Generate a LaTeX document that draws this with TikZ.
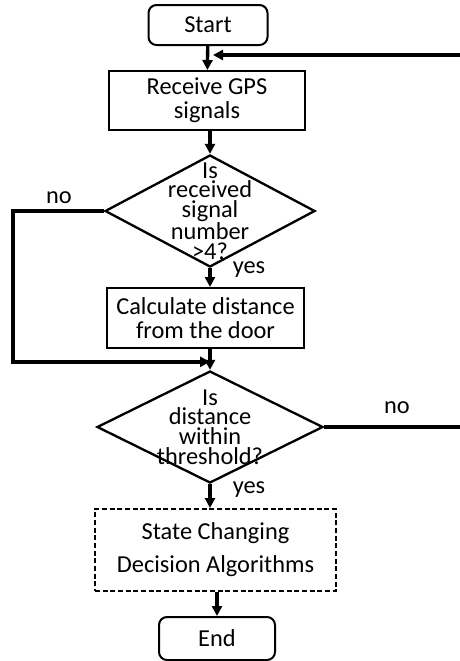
\documentclass[tikz,border=0pt]{standalone}
\usepackage{fontspec}
\setmainfont{Carlito}
\usetikzlibrary{calc,positioning,shapes.geometric}
\usetikzlibrary{arrows.meta}

\begin{document}
\begin{tikzpicture}[x=0.3mm,y=-0.3mm,
        txt/.style={font=\fontsize{20.8pt}{20.5pt}\selectfont, align=center},
        box/.style={txt, draw, line width=0.6mm, inner sep=0pt},
        term/.style={box, rounded corners=2.4mm},
        decision/.style={diamond, draw, line width=0.7mm, inner sep=0pt},
        dtext/.style={txt, font=\fontsize{20.8pt}{16.8pt}\selectfont},
        conn/.style={line width=1mm, -{Triangle[length=3mm,width=3mm]}},
        flowline/.style={line width=1mm}]

        \useasboundingbox (0,0) rectangle (460,661);

        % blocks
        \node[term, minimum width=35.7mm, minimum height=12mm] (nStart) at (208,25) {Start};
        \node[box, minimum width=58.8mm, minimum height=17.7mm] (nReceive) at (207,100.5) {Receive GPS\\signals};
        \node[decision, minimum width=63mm, minimum height=33.6mm,
              label={[dtext]center:{Is\\received\\signal\\number\\>4?}}] (nSignals) at (210,211) {};
        \node[box, minimum width=59.1mm, minimum height=18mm] (nCalc) at (205.5,318) {Calculate distance\\from the door};
        \node[decision, minimum width=67.8mm, minimum height=33.6mm,
              label={[dtext]center:{Is\\distance\\within\\threshold?}}] (nThresh) at (210,427) {};
        \node[box, dash pattern=on 1.5mm off 0.8mm, minimum width=72.3mm, minimum height=24.6mm,
              font=\fontsize{20.8pt}{28pt}\selectfont] (nAlgo) at (215.5,550) {State Changing\\Decision Algorithms};
        \node[term, minimum width=34.8mm, minimum height=12.9mm] (nEnd) at (217,638.5) {End};

        % free ends
        \coordinate (cBackIn) at (460,55);
        \coordinate (cLoopLeft) at (13,300);
        \coordinate (cJoin) at ($(nThresh.north)+(0,-8)$);
        \coordinate (cOutRight) at (460,427);

        % connectors
        \draw[conn] (nStart) -- (nReceive);
        \draw[conn, shorten >=1.5mm] (cBackIn) -- (cBackIn -| nStart);
        \draw[conn] (nSignals.north |- nReceive.south) -- (nSignals.north);
        \draw[conn] (nSignals.south) -- (nSignals.south |- nCalc.north);
        \draw[conn] (nSignals.west) -| (cLoopLeft) |- (cJoin);
        \draw[conn] (nThresh.north |- nCalc.south) -- (nThresh.north);
        \draw[flowline] (nThresh.east) -- (cOutRight);
        \draw[conn] (nThresh.south) -- (nThresh.south |- nAlgo.north);
        \draw[conn] (nEnd.north |- nAlgo.south) -- (nEnd.north);

        % branch labels
        \node[txt] (nNoOne) at (59,198) {no};
        \node[txt] (nYesOne) at (249,270) {yes};
        \node[txt] (nNoTwo) at (397,408) {no};
        \node[txt] (nYesTwo) at (249,490) {yes};

\end{tikzpicture}
\end{document}
